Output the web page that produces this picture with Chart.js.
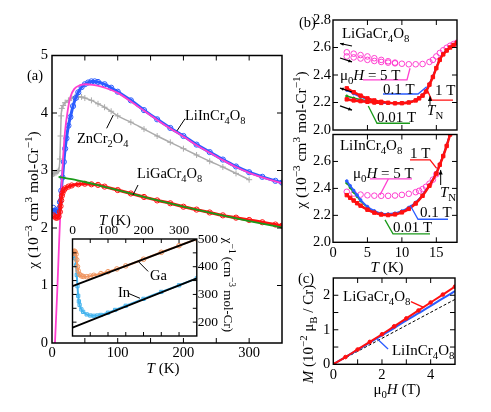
<!DOCTYPE html>
<html>
<head>
<meta charset="utf-8">
<script src="https://cdn.jsdelivr.net/npm/chart.js@4.4.1/dist/chart.umd.min.js"></script>
<style>
  html, body { margin: 0; padding: 0; background: #fff; }
  #wrap { position: relative; width: 491px; height: 412px; overflow: hidden; }
  #wrap canvas { position: absolute; left: 0; top: 0; }
</style>
</head>
<body>
<div id="wrap">
  <canvas id="cA" width="491" height="412"></canvas>
  <canvas id="cB" width="491" height="412"></canvas>
  <canvas id="cC" width="491" height="412"></canvas>
  <canvas id="cD" width="491" height="412"></canvas>
  <canvas id="cE" width="491" height="412"></canvas>
</div>
<script>
// ---- (a) chi(T), 10^-3 cm^3 / mol-Cr ----
const inT   = [2,4,6,8,10,12,14,16,18,20,22,25,28,32,36,40,45,50,55,60,65,70,80,90,100,120,140,160,180,200,220,240,260,280,300,320,340,350];
const inChi = [2.35,2.3,2.27,2.28,2.33,2.45,2.65,2.88,3.15,3.38,3.56,3.78,3.93,4.12,4.26,4.36,4.45,4.5,4.53,4.55,4.55,4.54,4.5,4.44,4.37,4.22,4.05,3.89,3.74,3.6,3.45,3.32,3.19,3.07,2.97,2.89,2.82,2.79];
const inFitT   = [4.5,8,11,14,17,20,24,28,34,42,52,62,75,90,100,120,140,160,180,200,220,240,260,280,300,320,340,350];
const inFitChi = [0,0.9,1.8,2.6,3.25,3.7,4.05,4.28,4.42,4.48,4.5,4.49,4.46,4.4,4.35,4.2,4.04,3.88,3.73,3.59,3.44,3.31,3.18,3.06,2.96,2.88,2.81,2.78];
const znT   = [2,4,6,8,10,12,13,14,15,17,20,25,30,35,40,45,50,60,70,80,90,100,120,140,160,180,200,220,240,260,280,300];
const znChi = [2.94,2.95,2.96,2.98,3.0,3.2,3.6,3.95,4.08,4.13,4.18,4.22,4.26,4.28,4.28,4.28,4.26,4.22,4.16,4.1,4.03,3.95,3.84,3.72,3.6,3.49,3.38,3.27,3.16,3.06,2.95,2.84];
const gaT   = [2,4,6,8,10,12,13,14,15,16,18,20,25,30,40,50,60,70,80,100,120,140,160,180,200,220,240,260,280,300,320,340,350];
const gaChi = [2.22,2.2,2.18,2.18,2.2,2.28,2.38,2.48,2.56,2.61,2.66,2.69,2.72,2.74,2.76,2.77,2.76,2.75,2.72,2.66,2.6,2.54,2.48,2.43,2.37,2.32,2.27,2.22,2.18,2.14,2.1,2.06,2.04];
const gaFitT   = [10,30,50,75,100,150,200,250,300,350];
const gaFitChi = [2.89,2.85,2.8,2.73,2.66,2.51,2.37,2.24,2.12,2.01];

// ---- inset: 1/chi ----
const gaInvT = [2,4,6,8,10,12,14,16,20,25,30,40,50,60,80,100,125,150,200,250,300,350];
const gaInv  = [448,455,456,452,445,425,400,385,372,367,365,364,366,369,375,382,392,403,427,452,476,500];
const inInvT = [2,4,6,8,10,12,14,16,18,20,25,30,40,50,60,70,80,100,120,150,200,250,300,350];
const inInv  = [440,450,445,430,405,370,330,295,275,262,246,237,228,224,223,224,226,234,244,259,284,309,333,358];
const fitEndsT = [0,350];
const gaInvFit = [330,500];
const inInvFit = [180,358];

// ---- (b) LiGaCr4O8, low T ----
const bGa5T  = [2,3,4,5,6,7,8,9,10,11,12,13,14,14.5,15,15.5,16,16.5,17,17.5,18];
const bGa5Up = [2.565,2.555,2.545,2.535,2.522,2.51,2.5,2.49,2.482,2.478,2.478,2.48,2.495,2.51,2.535,2.56,2.58,2.598,2.613,2.625,2.635];
const bGa5DnT = [2,3,4,5,6,7,8,9];
const bGa5Dn  = [2.535,2.528,2.52,2.51,2.502,2.495,2.49,2.485];
const bGaT   = [2,3,4,5,6,7,8,9,10,11,12,12.5,13,13.5,14,14.5,15,15.5,16,16.5,17,17.5,18];
const bGa1Up = [2.303,2.275,2.25,2.23,2.215,2.205,2.198,2.194,2.195,2.2,2.215,2.23,2.25,2.28,2.33,2.385,2.45,2.51,2.55,2.578,2.6,2.618,2.635];
const bGa1DnT = [2,3,4,5,6,7];
const bGa1Dn  = [2.223,2.215,2.21,2.205,2.2,2.197];
const bGa01  = [2.225,2.218,2.212,2.206,2.2,2.197,2.195,2.194,2.196,2.202,2.218,2.233,2.255,2.285,2.335,2.39,2.455,2.515,2.555,2.58,2.602,2.62,2.636];
const bGa01UpT = [2,3,4,5,6];
const bGa01Up  = [2.29,2.265,2.243,2.225,2.212];
const bGa001 = [2.247,2.232,2.222,2.213,2.205,2.2,2.197,2.195,2.196,2.202,2.217,2.232,2.253,2.283,2.333,2.388,2.452,2.512,2.553,2.579,2.601,2.619,2.635];

// ---- (b) LiInCr4O8, low T ----
const bInT   = [2,2.5,3,3.5,4,5,6,7,8,9,10,11,12,13,14,15,15.5,16,16.5,17,17.4];
const bIn01  = [2.455,2.42,2.385,2.35,2.315,2.265,2.233,2.215,2.21,2.216,2.232,2.258,2.296,2.35,2.425,2.515,2.58,2.645,2.72,2.81,2.9];
const bIn001 = [2.44,2.405,2.372,2.34,2.308,2.26,2.23,2.213,2.208,2.214,2.23,2.256,2.294,2.348,2.423,2.513,2.578,2.643,2.718,2.808,2.898];
const bIn1T  = [2,2.5,3,3.5,4,5,6,7,8,9,10,11,12,13,14,15,15.5,16,16.5,17,17.3,17.6];
const bIn1   = [2.35,2.33,2.31,2.29,2.272,2.242,2.22,2.206,2.202,2.207,2.222,2.248,2.288,2.345,2.42,2.51,2.575,2.64,2.715,2.8,2.86,2.92];
const bIn5T  = [2,3,4,5,6,7,8,9,10,11,12,12.5,13,13.5,14,14.5,15];
const bIn5   = [2.375,2.362,2.354,2.349,2.346,2.345,2.345,2.347,2.352,2.36,2.372,2.382,2.395,2.412,2.435,2.465,2.505];

// ---- (c) M(H), 10^-2 muB / Cr ----
const hField = [0,0.5,1,1.5,2,2.5,3,3.5,4,4.5,5];
const mGa    = [0,0.21,0.43,0.65,0.87,1.1,1.33,1.56,1.79,2.02,2.25];
const mIn    = [0,0.21,0.42,0.63,0.84,1.05,1.27,1.48,1.69,1.91,2.12];
const hLine  = [0,5];
const mLine  = [0,1.88];

const FONT = '"Liberation Serif", "DejaVu Serif", serif';
Chart.defaults.font.family = FONT;
Chart.defaults.font.size = 14.5;
Chart.defaults.color = '#000';

const BLUE = '#2a5cff', MAG = '#ff3fd0', RED = '#ff1010', GREEN = '#1a9a1a', GRAY = '#ababab';
const ORANGE = '#f0945e', CYAN = '#45b4ee', NONE = 'rgba(0,0,0,0)';
const W = 491, H = 412;

const pts = (xs, ys) => xs.map((x, i) => ({ x, y: ys[i] }));

function series(xs, ys, color, o) {
  return Object.assign({
    data: pts(xs, ys), showLine: true, borderColor: color, backgroundColor: NONE,
    pointBorderColor: color, pointBackgroundColor: NONE, borderWidth: 2,
    pointRadius: 0, pointBorderWidth: 1, pointStyle: 'circle',
    cubicInterpolationMode: 'monotone'
  }, o || {});
}

// rich text: $..$ italic, _x / _{..} subscript, ^x / ^{..} superscript
function parseRich(str) {
  const out = []; let it = false;
  const push = (t, m) => {
    const last = out[out.length - 1];
    if (last && last.it === it && last.m === m) last.t += t; else out.push({ t, it, m });
  };
  for (let i = 0; i < str.length;) {
    const c = str[i];
    if (c === '$') { it = !it; i++; continue; }
    if (c === '_' || c === '^') {
      let t;
      if (str[i + 1] === '{') { const j = str.indexOf('}', i); t = str.slice(i + 2, j); i = j + 1; }
      else { t = str[i + 1]; i += 2; }
      push(t, c === '_' ? 'b' : 'p'); continue;
    }
    push(c, 'n'); i++;
  }
  return out;
}

function drawRich(ctx, str, x, y, o) {
  const size = o.size || 14.5, segs = parseRich(str);
  const fontOf = s => `${s.it ? 'italic ' : ''}${s.m === 'n' ? size : (size * 0.72).toFixed(1)}px ${FONT}`;
  let w = 0;
  segs.forEach(s => { ctx.font = fontOf(s); s.w = ctx.measureText(s.t).width; w += s.w; });
  ctx.save();
  ctx.translate(x, y);
  if (o.rot) ctx.rotate(o.rot);
  let cx = o.align === 'center' ? -w / 2 : o.align === 'right' ? -w : 0;
  ctx.fillStyle = o.color || '#000';
  ctx.textBaseline = 'alphabetic';
  const base = size * 0.34;
  segs.forEach(s => {
    ctx.font = fontOf(s);
    const dy = s.m === 'b' ? size * 0.26 : s.m === 'p' ? -size * 0.4 : 0;
    ctx.fillText(s.t, cx, base + dy);
    cx += s.w;
  });
  ctx.restore();
}

function deco(d) {
  return {
    id: 'deco',
    beforeDraw(chart) {
      if (!d.white) return;
      const a = chart.chartArea, ctx = chart.ctx;
      ctx.save(); ctx.fillStyle = '#fff';
      ctx.fillRect(a.left, a.top, a.right - a.left, a.bottom - a.top);
      ctx.restore();
    },
    afterDraw(chart) {
      const ctx = chart.ctx, a = chart.chartArea, xs = chart.scales.x, ys = chart.scales.y;
      const P = (p, px) => px ? p : [xs.getPixelForValue(p[0]), ys.getPixelForValue(p[1])];
      ctx.save();
      ctx.strokeStyle = '#000'; ctx.fillStyle = '#000'; ctx.lineWidth = 1;
      const tick = (sc, step, len, horiz) => {
        for (let i = Math.ceil(sc.min / step - 1e-9); i * step <= sc.max + 1e-9; i++) {
          const v = i * step;
          if (Math.abs(v - sc.min) < 1e-9 || Math.abs(v - sc.max) < 1e-9) continue;
          const p = sc.getPixelForValue(v);
          ctx.beginPath();
          if (horiz) { ctx.moveTo(p, a.bottom); ctx.lineTo(p, a.bottom - len); ctx.moveTo(p, a.top); ctx.lineTo(p, a.top + len); }
          else { ctx.moveTo(a.left, p); ctx.lineTo(a.left + len, p); ctx.moveTo(a.right, p); ctx.lineTo(a.right - len, p); }
          ctx.stroke();
        }
      };
      tick(xs, d.xt[0], d.xt[1], true);
      tick(ys, d.yt[0], d.yt[1], false);
      ctx.lineWidth = d.fw || 1.4;
      ctx.strokeRect(a.left, a.top, a.right - a.left, a.bottom - a.top);

      (d.lines || []).forEach(l => {
        const q = l.p.map(p => P(p, l.px));
        ctx.strokeStyle = l.c || '#000'; ctx.fillStyle = l.c || '#000';
        ctx.lineWidth = l.w || 1;
        ctx.beginPath();
        q.forEach((p, i) => i ? ctx.lineTo(p[0], p[1]) : ctx.moveTo(p[0], p[1]));
        ctx.stroke();
        if (l.head) {
          const [x1, y1] = q[q.length - 2], [x2, y2] = q[q.length - 1];
          const ang = Math.atan2(y2 - y1, x2 - x1), s = l.head;
          ctx.beginPath();
          ctx.moveTo(x2, y2);
          ctx.lineTo(x2 - s * Math.cos(ang - 0.42), y2 - s * Math.sin(ang - 0.42));
          ctx.lineTo(x2 - s * Math.cos(ang + 0.42), y2 - s * Math.sin(ang + 0.42));
          ctx.closePath(); ctx.fill();
        }
      });
      (d.texts || []).forEach(t => {
        const p = P(t.at, t.px);
        drawRich(ctx, t.s, p[0], p[1], t);
      });
      ctx.restore();
    }
  };
}

function axis(o) {
  return {
    type: 'linear', position: o.pos, min: o.min, max: o.max,
    grid: { display: false, drawTicks: false }, border: { display: false },
    ticks: {
      display: o.show !== false, stepSize: o.step, includeBounds: false,
      padding: o.pad === undefined ? 2 : o.pad, autoSkip: false, maxRotation: 0,
      font: o.font ? { size: o.font } : undefined,
      callback: o.fmt || (v => v)
    },
    afterFit(s) { if (s.isHorizontal()) s.height = o.size; else s.width = o.size; }
  };
}

function makeChart(id, c) {
  const pad = {
    left: c.area.l - (c.y.pos === 'left' ? c.y.size : 0),
    right: W - c.area.r - (c.y.pos === 'right' ? c.y.size : 0),
    top: c.area.t - (c.x.pos === 'top' ? c.x.size : 0),
    bottom: H - c.area.b - (c.x.pos === 'bottom' ? c.x.size : 0)
  };
  return new Chart(document.getElementById(id), {
    type: 'scatter',
    data: { datasets: c.datasets },
    options: {
      responsive: false, animation: false, events: [],
      layout: { padding: pad, autoPadding: false },
      plugins: { legend: { display: false }, tooltip: { enabled: false } },
      scales: { x: axis(c.x), y: axis(c.y) }
    },
    plugins: [deco(c.deco)]
  });
}

const fix1 = v => Number(v).toFixed(1);

// (a) main panel
makeChart('cA', {
  area: { l: 52, r: 282, t: 55.5, b: 343 },
  x: { pos: 'bottom', min: 0, max: 350, step: 100, size: 30, pad: 1 },
  y: { pos: 'left', min: 0, max: 5, step: 1, size: 52, pad: 4 },
  datasets: [
    series(gaFitT, gaFitChi, GREEN, { borderWidth: 1.8 }),
    series(gaT, gaChi, RED, { borderWidth: 3, pointRadius: 2.6 }),
    series(inFitT, inFitChi, MAG, { borderWidth: 1.8 }),
    series(inT, inChi, BLUE, { borderWidth: 3, pointRadius: 2.6 }),
    series(znT, znChi, GRAY, { borderWidth: 1.5, pointRadius: 3, pointStyle: 'cross' })
  ],
  deco: {
    xt: [50, 5], yt: [1, 5], fw: 1.5,
    lines: [
      { p: [[202.4, 3.9], [190.2, 3.69]] },
      { p: [[93.3, 3.965], [83.2, 3.734]] },
      { p: [[130.9, 2.748], [123.3, 2.574]] }
    ],
    texts: [
      { s: 'LiInCr_4O_8', at: [202.4, 3.965] },
      { s: 'ZnCr_2O_4', at: [38, 3.565] },
      { s: 'LiGaCr_4O_8', at: [129.4, 2.957] },
      { s: '(a)', at: [27, 75], px: true },
      { s: '$T$ (K)', at: [163, 368], px: true, align: 'center', size: 15 },
      { s: 'χ (10^{−3} cm^3 mol-Cr^{−1})', at: [33, 200], px: true, align: 'center', rot: -Math.PI / 2, size: 15.5 }
    ]
  }
});

// inset, 1/chi
makeChart('cB', {
  area: { l: 72.5, r: 196.8, t: 239, b: 336 },
  x: { pos: 'top', min: 0, max: 350, step: 100, size: 20, pad: 0, font: 13.5 },
  y: { pos: 'right', min: 150, max: 500, step: 100, size: 30, pad: 1, font: 13.5 },
  datasets: [
    series(fitEndsT, gaInvFit, '#000', { borderWidth: 1.8 }),
    series(fitEndsT, inInvFit, '#000', { borderWidth: 1.8 }),
    series(gaInvT, gaInv, ORANGE, { borderWidth: 2, pointRadius: 2.3 }),
    series(inInvT, inInv, CYAN, { borderWidth: 2, pointRadius: 2.3, pointStyle: 'rect' })
  ],
  deco: {
    white: true, xt: [50, 4], yt: [50, 4], fw: 1.4,
    lines: [
      { p: [[186, 418], [213, 383]] },
      { p: [[157, 304], [190, 286]] }
    ],
    texts: [
      { s: 'Ga', at: [218, 370] },
      { s: 'In', at: [128, 309] },
      { s: '$T$ (K)', at: [115, 220], px: true, align: 'center' },
      { s: 'χ^{−1} (cm^{−3} mol-Cr)', at: [228, 285], px: true, align: 'center', rot: Math.PI / 2, size: 13 }
    ]
  }
});

// (b) top: LiGaCr4O8
makeChart('cC', {
  area: { l: 333, r: 457, t: 20, b: 130 },
  x: { pos: 'bottom', min: 0, max: 18, step: 5, size: 0, show: false },
  y: { pos: 'left', min: 2.0, max: 2.8, step: 0.2, size: 40, pad: 2, fmt: fix1 },
  datasets: [
    series(bGaT, bGa1Up, RED, { borderWidth: 2.5, pointRadius: 2.4, pointStyle: 'rect', pointBackgroundColor: RED }),
    series(bGa1DnT, bGa1Dn, RED, { borderWidth: 2.5, pointRadius: 2.4, pointStyle: 'rect', pointBackgroundColor: RED }),
    series(bGaT, bGa01, BLUE, { borderWidth: 1.8, pointRadius: 1.3, pointBackgroundColor: BLUE }),
    series(bGa01UpT, bGa01Up, BLUE, { borderWidth: 1.8, pointRadius: 1.3, pointBackgroundColor: BLUE }),
    series(bGaT, bGa001, GREEN, { borderWidth: 1.5, pointRadius: 1.1, pointBackgroundColor: GREEN }),
    series(bGa5T, bGa5Up, MAG, { showLine: false, pointRadius: 2.8 }),
    series(bGa5DnT, bGa5Dn, MAG, { showLine: false, pointRadius: 2.8 })
  ],
  deco: {
    xt: [5, 5], yt: [0.2, 5], fw: 1.4,
    lines: [
      { p: [[4.35, 2.364], [10.74, 2.364], [11.18, 2.449]], c: MAG, w: 1.3 },
      { p: [[7.26, 2.262], [12.34, 2.262], [13.6, 2.315]], c: BLUE, w: 1.3 },
      { p: [[17.42, 2.218], [14.33, 2.218], [13.6, 2.3]], c: RED, w: 1.3 },
      { p: [[11.18, 2.049], [6.39, 2.049], [5.12, 2.175]], c: GREEN, w: 1.3 },
      { p: [[14.08, 2.182], [14.08, 2.245]], head: 5 },
      { p: [[2.76, 2.611], [1.02, 2.629]], head: 4, w: 1.2 },
      { p: [[1.02, 2.524], [2.76, 2.495]], head: 4, w: 1.2 },
      { p: [[2.76, 2.276], [1.02, 2.305]], head: 4, w: 1.2 },
      { p: [[1.02, 2.175], [2.76, 2.145]], head: 4, w: 1.2 }
    ],
    texts: [
      { s: 'LiGaCr_4O_8', at: [1.3, 2.705], size: 15 },
      { s: 'μ_0$H$ = 5 T', at: [1.0, 2.40], size: 15 },
      { s: '0.1 T', at: [7.26, 2.298], size: 15 },
      { s: '1 T', at: [14.8, 2.29], size: 15 },
      { s: '0.01 T', at: [6.39, 2.095], size: 15 },
      { s: '$T$_N', at: [13.65, 2.145], size: 15 },
      { s: '(b)', at: [299, 22], px: true }
    ]
  }
});

// (b) bottom: LiInCr4O8
makeChart('cD', {
  area: { l: 333, r: 457, t: 134.5, b: 242.3 },
  x: { pos: 'bottom', min: 0, max: 18, step: 5, size: 20, pad: 2 },
  y: { pos: 'left', min: 2.0, max: 2.8, step: 0.2, size: 40, pad: 2, fmt: v => v > 2.75 ? '' : fix1(v) },
  datasets: [
    series(bIn1T, bIn1, RED, { borderWidth: 2.5, pointRadius: 2.4, pointStyle: 'rect', pointBackgroundColor: RED }),
    series(bInT, bIn01, BLUE, { borderWidth: 1.8, pointRadius: 1.3, pointBackgroundColor: BLUE }),
    series(bInT, bIn001, GREEN, { borderWidth: 1.5, pointRadius: 1.1, pointBackgroundColor: GREEN }),
    series(bIn5T, bIn5, MAG, { showLine: false, pointRadius: 2.8 })
  ],
  deco: {
    xt: [5, 5], yt: [0.2, 5], fw: 1.4,
    lines: [
      { p: [[11.18, 2.611], [14.08, 2.611], [15.05, 2.549]], c: RED, w: 1.3 },
      { p: [[5.37, 2.47], [11.47, 2.47]], c: MAG, w: 1.3 },
      { p: [[8.03, 2.47], [6.82, 2.351]], c: MAG, w: 1.3 },
      { p: [[15.63, 2.425], [15.63, 2.537]], head: 5 },
      { p: [[16.69, 2.171], [12.34, 2.171], [11.18, 2.277]], c: BLUE, w: 1.3 },
      { p: [[14.08, 2.062], [8.71, 2.062], [7.55, 2.166]], c: GREEN, w: 1.3 }
    ],
    texts: [
      { s: 'LiInCr_4O_8', at: [1.0, 2.722], size: 15 },
      { s: '1 T', at: [11.18, 2.663], size: 15 },
      { s: 'μ_0$H$ = 5 T', at: [2.9, 2.517], size: 15 },
      { s: '$T$_N', at: [15.53, 2.376], size: 15 },
      { s: '0.1 T', at: [12.63, 2.227], size: 15 },
      { s: '0.01 T', at: [8.71, 2.116], size: 15 },
      { s: '$T$ (K)', at: [387, 267], px: true, align: 'center', size: 15 },
      { s: 'χ (10^{−3} cm^3 mol-Cr^{−1})', at: [301, 140], px: true, align: 'center', rot: -Math.PI / 2, size: 15.5 }
    ]
  }
});

// (c) M(H)
makeChart('cE', {
  area: { l: 333.3, r: 455, t: 278, b: 364.3 },
  x: { pos: 'bottom', min: 0, max: 5, step: 2, size: 20, pad: 2 },
  y: { pos: 'left', min: 0, max: 2.5, step: 1, size: 40, pad: 3 },
  datasets: [
    series(hField, mGa, RED, { borderWidth: 2, pointRadius: 1.8, pointBackgroundColor: RED }),
    series(hField, mIn, BLUE, { borderWidth: 2 }),
    series(hLine, mLine, '#000', { borderWidth: 1, borderDash: [3, 2] })
  ],
  deco: {
    xt: [1, 5], yt: [0.5, 5], fw: 1.4,
    lines: [
      { p: [[3.19, 1.816], [3.73, 1.641]], c: RED, w: 1.3 },
      { p: [[2.25, 0.446], [1.8, 0.738]], c: BLUE, w: 1.3 }
    ],
    texts: [
      { s: 'LiGaCr_4O_8', at: [0.4, 1.99], size: 15 },
      { s: 'LiInCr_4O_8', at: [2.41, 0.417], size: 15 },
      { s: '(c)', at: [298, 278], px: true },
      { s: 'μ_0$H$ (T)', at: [397, 389], px: true, align: 'center', size: 15 },
      { s: '$M$ (10^{−2} μ_B / Cr)', at: [308, 334], px: true, align: 'center', rot: -Math.PI / 2, size: 15 }
    ]
  }
});
</script>
</body>
</html>
